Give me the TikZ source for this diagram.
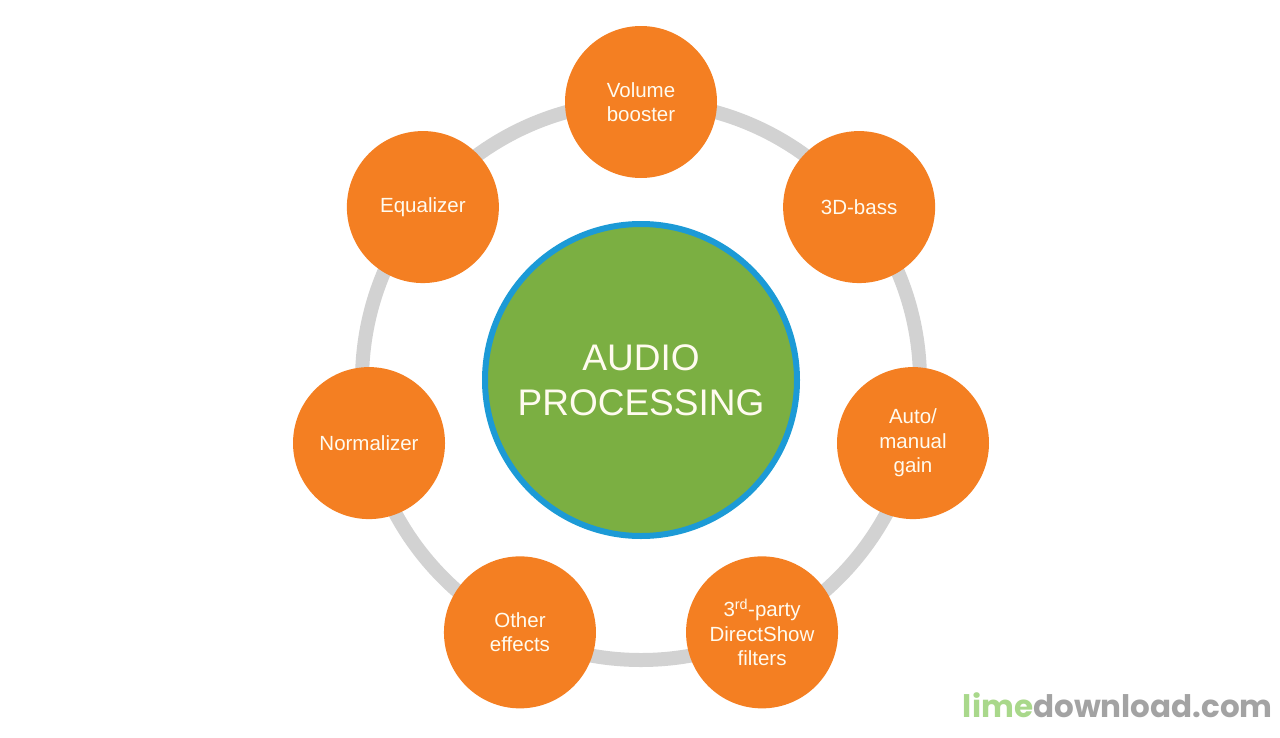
\documentclass[tikz,border=0pt]{standalone}
\usepackage{fontspec}
\usetikzlibrary{calc}
\setmainfont{Liberation Sans}
\newfontfamily\wmfont{Poppins}
\definecolor{orangeC}{HTML}{F47F22}
\definecolor{greenC}{HTML}{7BAF42}
\definecolor{blueC}{HTML}{1C9AD6}
\definecolor{ringC}{HTML}{D2D2D2}
\definecolor{textC}{HTML}{FFFBEF}
\definecolor{limeC}{HTML}{A9D88B}
\definecolor{wmgray}{HTML}{A3A3A3}
\begin{document}
\begin{tikzpicture}[x=1pt,y=-1pt,
  item/.style={circle,fill=orangeC,minimum size=152pt,inner sep=0pt,text=textC,
    align=center,font=\fontsize{20.5}{24.5}\selectfont},
  hub/.style={circle,fill=greenC,draw=blueC,line width=6pt,minimum size=312pt,inner sep=0pt,
    text=textC,align=center,font=\fontsize{37}{45}\selectfont}]
\useasboundingbox (0,0) rectangle (1280,737);
\coordinate (ctr) at (641,381);
\draw[ringC,line width=14pt] (ctr) circle[radius=279];
\foreach \i/\n/\t in {0/vol/{Volume\\booster},1/bass/{3D-bass},2/gain/{Auto/\\manual\\gain},
  3/party/{3\textsuperscript{rd}-party\\DirectShow\\filters},4/other/{Other\\effects},
  5/norm/{Normalizer},6/eq/{Equalizer}}{
  \node[item] (\n) at ($(ctr)+({\i*360/7-90}:279)$) {\t};
}
\node[hub] (hub) at (641,380) {AUDIO\\PROCESSING};
\node[anchor=base east,inner sep=0pt,font=\wmfont\bfseries\fontsize{31}{31}\selectfont] (wm) at (1273,717)
  {\textcolor{limeC}{lime}\textcolor{wmgray}{download.com}};
\end{tikzpicture}
\end{document}
